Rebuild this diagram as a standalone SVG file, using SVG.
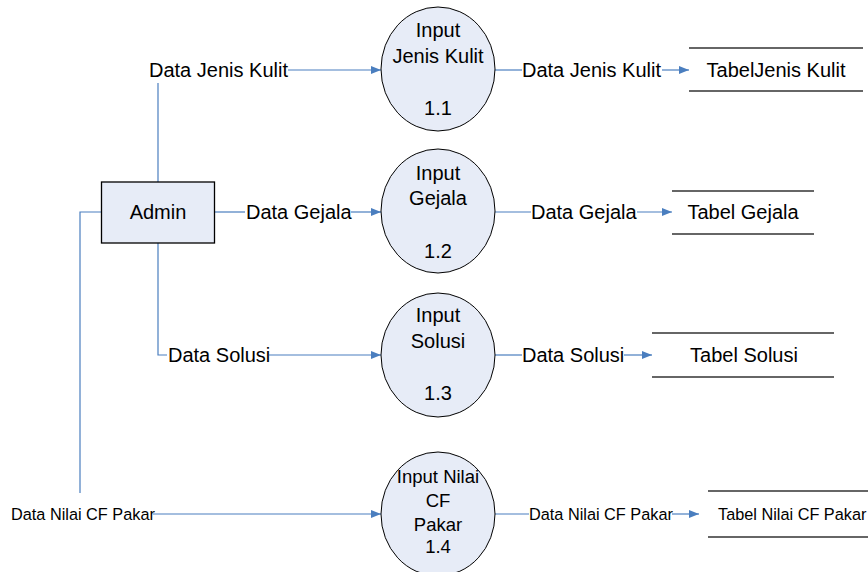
<svg xmlns="http://www.w3.org/2000/svg" width="868" height="572" viewBox="0 0 868 572">
<defs>
<marker id="arr" markerWidth="10" markerHeight="8" refX="10" refY="4" orient="auto" markerUnits="userSpaceOnUse">
<path d="M0,0 L10,4 L0,8 Z" fill="#4a7ebf"/>
</marker>
<style>
.t{font-family:"Liberation Sans",Arial,sans-serif;font-size:20px;fill:#000}
.s{font-family:"Liberation Sans",Arial,sans-serif;font-size:16.3px;fill:#000}
.c{font-family:"Liberation Sans",Arial,sans-serif;font-size:18.5px;fill:#000}
.proc{fill:#e7ecf7;stroke:#000;stroke-width:1}
.ent{fill:#e7ecf7;stroke:#000;stroke-width:1.3}
.ln{fill:none;stroke:#4a7ebf;stroke-width:1.2}
.ar{fill:none;stroke:#4a7ebf;stroke-width:1.2;marker-end:url(#arr)}
.st{stroke:#333;stroke-width:1.3}
</style>
</defs>
<rect width="868" height="572" fill="#fff"/>
<g id="connectors">
<polyline class="ln" points="158,182 158,83"/>
<text class="t" x="149" y="77">Data Jenis Kulit</text>
<line class="ar" x1="288" y1="70" x2="381" y2="70"/>
<line class="ln" x1="215" y1="212" x2="245" y2="212"/>
<text class="t" x="246" y="219">Data Gejala</text>
<line class="ar" x1="351" y1="212" x2="381" y2="212"/>
<polyline class="ln" points="158,243 158,355 167,355"/>
<text class="t" x="168" y="362">Data Solusi</text>
<line class="ar" x1="269" y1="355" x2="381" y2="355"/>
<polyline class="ln" points="101,212 80,212 80,493"/>
<text class="s" x="11" y="520">Data Nilai CF Pakar</text>
<line class="ar" x1="153" y1="514" x2="381" y2="514"/>
<line class="ln" x1="495" y1="70" x2="522" y2="70"/>
<text class="t" x="522" y="77">Data Jenis Kulit</text>
<line class="ar" x1="662" y1="70" x2="689" y2="70"/>
<line class="ln" x1="495" y1="212" x2="531" y2="212"/>
<text class="t" x="531" y="219">Data Gejala</text>
<line class="ar" x1="637" y1="212" x2="672" y2="212"/>
<line class="ln" x1="495" y1="355" x2="522" y2="355"/>
<text class="t" x="522" y="362">Data Solusi</text>
<line class="ar" x1="624" y1="355" x2="652" y2="355"/>
<line class="ln" x1="495" y1="514" x2="529" y2="514"/>
<text class="s" x="529" y="520">Data Nilai CF Pakar</text>
<line class="ar" x1="672" y1="514" x2="699" y2="514"/>
</g>
<g id="admin">
<rect class="ent" x="101.5" y="182" width="113" height="61"/>
<text class="t" x="158" y="219" text-anchor="middle">Admin</text>
</g>
<g id="p11">
<ellipse class="proc" cx="438" cy="69" rx="57" ry="62"/>
<text class="t" text-anchor="middle" x="438" y="37">Input</text>
<text class="t" text-anchor="middle" x="438" y="63">Jenis Kulit</text>
<text class="t" text-anchor="middle" x="438" y="115">1.1</text>
</g>
<g id="p12">
<ellipse class="proc" cx="438" cy="211" rx="57" ry="62"/>
<text class="t" text-anchor="middle" x="438" y="180">Input</text>
<text class="t" text-anchor="middle" x="438" y="205">Gejala</text>
<text class="t" text-anchor="middle" x="438" y="258">1.2</text>
</g>
<g id="p13">
<ellipse class="proc" cx="438" cy="355" rx="57" ry="62"/>
<text class="t" text-anchor="middle" x="438" y="322">Input</text>
<text class="t" text-anchor="middle" x="438" y="348">Solusi</text>
<text class="t" text-anchor="middle" x="438" y="400">1.3</text>
</g>
<g id="p14">
<ellipse class="proc" cx="438" cy="514" rx="57" ry="62"/>
<text class="c" text-anchor="middle" x="438" y="483">Input Nilai</text>
<text class="c" text-anchor="middle" x="438" y="507">CF</text>
<text class="c" text-anchor="middle" x="438" y="531">Pakar</text>
<text class="c" text-anchor="middle" x="438" y="553">1.4</text>
</g>
<g id="s1">
<line class="st" x1="689" y1="48" x2="863" y2="48"/>
<line class="st" x1="689" y1="91" x2="863" y2="91"/>
<text class="t" text-anchor="middle" x="776" y="77">TabelJenis Kulit</text>
</g>
<g id="s2">
<line class="st" x1="672" y1="191" x2="814" y2="191"/>
<line class="st" x1="672" y1="234" x2="814" y2="234"/>
<text class="t" text-anchor="middle" x="743" y="219">Tabel Gejala</text>
</g>
<g id="s3">
<line class="st" x1="652" y1="333" x2="834" y2="333"/>
<line class="st" x1="652" y1="377" x2="834" y2="377"/>
<text class="t" text-anchor="middle" x="744" y="362">Tabel Solusi</text>
</g>
<g id="s4">
<line class="st" x1="708" y1="491" x2="868" y2="491"/>
<line class="st" x1="708" y1="537" x2="868" y2="537"/>
<text class="s" x="718" y="520">Tabel Nilai CF Pakar</text>
</g>
</svg>
